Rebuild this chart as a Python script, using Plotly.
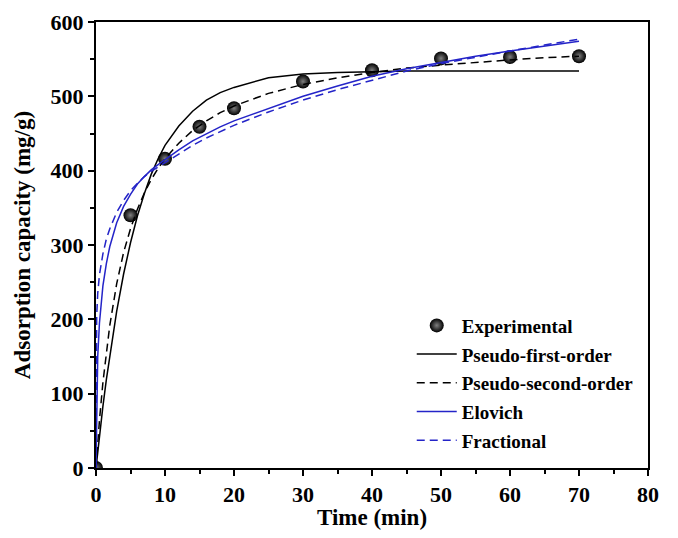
import plotly.graph_objects as go

# experimental adsorption data
t_exp = [0, 5, 10, 15, 20, 30, 40, 50, 60, 70]
q_exp = [0, 340, 416, 459, 484, 520, 535, 551, 553, 554]

# fitted curves
t_fit = [0, 0.1, 0.25, 0.5, 1, 1.5, 2, 3, 4, 5, 6, 7, 8, 9, 10, 12, 14, 16, 18, 20,
         25, 30, 35, 40, 45, 50, 55, 60, 65, 70]
q_pfo = [0, 9, 22, 43, 83, 119, 152, 211, 261, 303, 339, 369, 395, 416, 434, 460, 480, 495, 505, 512,
         525, 530, 532, 533, 534, 534, 534, 534, 534, 534]
q_pso = [0, 14, 34, 64, 115, 157, 192, 248, 290, 322, 348, 370, 388, 403, 416, 437, 454, 467, 478, 487,
         504, 516, 525, 532, 538, 542, 546, 549, 552, 554]
q_elovich = [0, 100, 150, 195, 245, 275, 298, 330, 352, 368, 382, 392, 401, 408, 415, 428, 440, 450, 459, 467,
             484, 500, 514, 527, 537, 546, 554, 561, 568, 574]
q_fractional = [0, 205, 235, 260, 288, 308, 322, 344, 360, 373, 383, 392, 399, 405, 411, 423, 434, 444, 453, 461,
                479, 495, 509, 522, 534, 544, 553, 561, 569, 577]

font_family = "Times New Roman, Liberation Serif, serif"
blue = "#2424c8"
dashed = "8px,5px"

fig = go.Figure()

fig.add_trace(go.Scatter(
    x=t_exp, y=q_exp, mode="markers", name="Experimental", legendgroup="a",
    marker=dict(size=14, color="black", gradient=dict(type="radial", color="#808080"),
                line=dict(width=0)),
))
fig.add_trace(go.Scatter(
    x=t_fit, y=q_pfo, mode="lines", name="Pseudo-first-order", legendgroup="b",
    line=dict(color="black", width=1.5),
))
fig.add_trace(go.Scatter(
    x=t_fit, y=q_pso, mode="lines", name="Pseudo-second-order", legendgroup="c",
    line=dict(color="black", width=1.5, dash=dashed),
))
fig.add_trace(go.Scatter(
    x=t_fit, y=q_elovich, mode="lines", name="Elovich", legendgroup="d",
    line=dict(color=blue, width=1.5),
))
fig.add_trace(go.Scatter(
    x=t_fit, y=q_fractional, mode="lines", name="Fractional", legendgroup="e",
    line=dict(color=blue, width=1.5, dash=dashed),
))

axis_common = dict(
    showgrid=False, zeroline=False, automargin=False,
    showline=True, linecolor="black", linewidth=2, mirror=True,
    ticks="outside", ticklen=6, tickwidth=1.5, tickcolor="black",
    tickfont=dict(family=font_family, size=22, color="black", weight="bold"),
)

fig.update_xaxes(
    range=[0, 80], tick0=0, dtick=10,
    minor=dict(ticks="outside", ticklen=4, tickwidth=1.5, tickcolor="black", dtick=5),
    title=dict(text="<b>Time (min)</b>", font=dict(family=font_family, size=23, color="black"), standoff=4),
    **axis_common,
)
fig.update_yaxes(
    range=[0, 600], tick0=0, dtick=100,
    minor=dict(ticks="outside", ticklen=4, tickwidth=1.5, tickcolor="black", dtick=50),
    title=dict(text="<b>Adsorption capacity (mg/g)</b>", font=dict(family=font_family, size=23, color="black"), standoff=14),
    **axis_common,
)

# the page body adds an 8px margin, so the figure is drawn 16px smaller
fig.update_layout(
    width=662, height=522,
    margin=dict(l=88, r=22, t=14, b=62),
    paper_bgcolor="white", plot_bgcolor="white",
    showlegend=True,
    legend=dict(
        x=0.572, y=0.362, xanchor="left", yanchor="top",
        bgcolor="rgba(0,0,0,0)", borderwidth=0,
        font=dict(family=font_family, size=19, color="black", weight="bold"),
        tracegroupgap=1, itemwidth=40,
    ),
)

fig.write_html("out.html")
